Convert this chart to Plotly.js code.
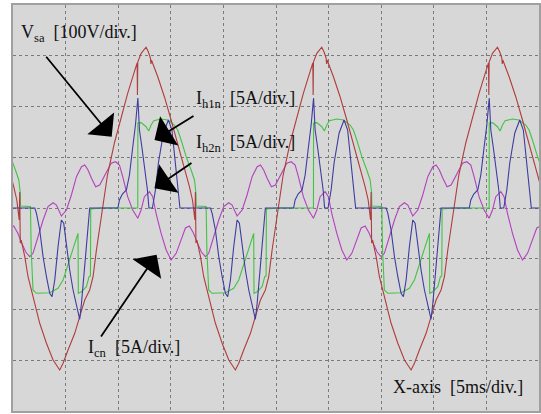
<!DOCTYPE html>
<html>
<head>
<meta charset="utf-8">
<script src="https://cdn.plot.ly/plotly-3.0.1.min.js"></script>
<style>html,body{margin:0;padding:0;background:#fff;}#chart{width:541px;height:414px;}</style>
</head>
<body>
<div id="chart"></div>
<script>
// Scope capture: x in ms (5 ms/div), y in divisions.
// One period of each trace, time relative to the rising zero crossing of Vsa.
const periodStarts = [-8.2, 8.5, 25.2, 41.9]; // ms, rising zero crossings of Vsa

const vsaT = [0.00,0.48,1.14,1.78,2.40,3.04,3.30,3.33,3.36,3.68,4.15,4.37,4.56,4.61,4.66,5.26,5.89,6.53,7.16,7.79,8.27,8.56,8.79,8.84,8.89,8.98,9.32,9.63,9.95,10.27,10.74,11.38,12.01,12.64,12.96,13.43,14.07,14.54,15.02,15.49,15.81,16.13,16.44];
const vsaV = [0,0.650,1.281,1.799,2.260,2.686,2.857,2.227,2.877,3.048,3.167,3.074,2.956,2.837,2.916,2.587,2.193,1.734,1.275,0.814,0.420,0.158,-0.236,0.315,-0.690,-0.631,-0.960,-1.354,-1.616,-1.878,-2.272,-2.666,-2.995,-3.192,-3.060,-2.798,-2.469,-2.142,-1.813,-1.616,-1.354,-0.828,-0.368];

const ih1T = [0,1.47,1.62,1.90,2.28,2.57,2.85,3.14,3.37,3.52,3.75,4.09,4.28,4.42,4.75,5.04,5.32,5.80,6.27,6.61,6.94,7.18,7.37,10.27,10.43,10.74,11.06,11.38,11.69,11.91,12.17,12.48,12.80,13.02,13.28,13.59,13.91,14.23,14.54,14.71,14.92,15.18,15.40,15.49];
const ih1V = [0,0,0.158,0.276,0.355,0.650,1.143,1.635,2.167,1.537,1.202,0.690,0.355,0,0,0.355,0.887,1.478,1.734,1.537,0.887,0.355,0,0,-0.104,-0.433,-0.960,-1.354,-1.681,-1.748,-1.419,-0.763,-0.236,-0.301,-0.763,-1.222,-1.616,-1.945,-2.193,-1.878,-1.354,-0.631,-0.104,0];

const ih2T = [0,3.36,3.37,3.68,4.15,4.40,4.63,4.88,5.58,6.21,6.84,7.16,7.48,7.96,8.43,8.75,8.89,8.91,9.86,9.93,10.10,10.43,11.69,12.48,12.96,13.59,14.07,14.38,14.41,14.71,15.18,15.43,15.56,15.59];
const ih2V = [0,0,1.675,1.681,1.602,1.517,1.635,1.720,1.754,1.734,1.635,1.537,1.340,1.011,0.749,0.552,0.296,0.039,0.030,-0.828,-1.616,-1.681,-1.669,-1.582,-1.419,-1.025,-0.696,-0.499,-1.681,-1.649,-1.551,-1.354,-1.340,-0.020];

const icnT = [0,0.35,0.83,1.24,1.62,1.93,2.40,2.88,3.36,3.68,3.99,4.47,4.78,5.10,5.58,6.06,6.53,7.01,7.48,7.89,8.27,8.65,9.03,9.41,9.79,10.10,10.58,11.06,11.53,12.01,12.33,12.80,13.28,13.75,14.23,14.71,15.02,15.33,15.66,16.06,16.44];
const icnV = [0.552,0.684,0.881,0.912,0.847,0.617,0.223,-0.039,-0.203,-0.039,0.223,0.321,0.223,-0.104,-0.499,-0.828,-1.025,-0.893,-0.631,-0.394,-0.355,-0.493,-0.690,-0.867,-0.960,-0.893,-0.566,-0.236,0.026,0.104,0.059,-0.158,-0.039,0.256,0.617,0.814,0.847,0.749,0.585,0.420,0.453];

function series(t, v) {
  const x = [], y = [];
  periodStarts.forEach(s => {
    t.forEach((ti, i) => { x.push(+(s + ti).toFixed(3)); y.push(v[i]); });
  });
  return {x, y};
}

function trace(t, v, color, name) {
  const d = series(t, v);
  return {x: d.x, y: d.y, type: 'scatter', mode: 'lines', name: name,
          line: {color: color, width: 1.1}, hoverinfo: 'skip'};
}

const data = [
  trace(icnT, icnV, '#b441bf', 'Icn'),
  trace(ih2T, ih2V, '#42c442', 'Ih2n'),
  trace(vsaT, vsaV, '#b03c3c', 'Vsa'),
  trace(ih1T, ih1V, '#3c3ca0', 'Ih1n')
];

const font = {family: 'Liberation Serif', size: 18, color: '#111'};

function label(text, x, y) {
  return {text: text, x: x, y: y, xref: 'x', yref: 'y', xanchor: 'left', yanchor: 'middle',
          showarrow: false, font: font};
}
function arrow(hx, hy, tx, ty) {
  return {text: '', x: hx, y: hy, ax: tx, ay: ty, xref: 'x', yref: 'y', axref: 'x', ayref: 'y',
          showarrow: true, arrowhead: 1, arrowsize: 3.2, arrowwidth: 1.8, arrowcolor: '#000', standoff: 0};
}

const layout = {
  width: 541, height: 414,
  margin: {l: 13, r: 2, t: 5, b: 3},
  paper_bgcolor: '#ffffff',
  plot_bgcolor: '#d7d7d7',
  font: {family: 'Liberation Serif'},
  showlegend: false,
  xaxis: {range: [0, 50], dtick: 5, tick0: 0, showticklabels: false, ticks: '',
          showgrid: true, gridcolor: '#7a7a7a', griddash: 'dot', gridwidth: 1,
          zeroline: false, showline: true, mirror: true, linecolor: '#a0a0a0', linewidth: 2, fixedrange: true},
  yaxis: {range: [-4, 4], dtick: 1, tick0: 0, showticklabels: false, ticks: '',
          showgrid: true, gridcolor: '#7a7a7a', griddash: 'dot', gridwidth: 1,
          zeroline: false, showline: true, mirror: true, linecolor: '#a0a0a0', linewidth: 2, fixedrange: true},
  annotations: [
    label('V<sub>sa</sub>  [100V/div.]', 0.6, 3.43),
    label('I<sub>h1n</sub>  [5A/div.]', 17.25, 2.13),
    label('I<sub>h2n</sub>  [5A/div.]', 17.25, 1.28),
    label('I<sub>cn</sub>  [5A/div.]', 6.94, -2.76),
    label('X-axis  [5ms/div.]', 35.9, -3.53),
    arrow(9.38, 1.405, 3.04, 3.01),
    arrow(13.45, 1.34, 17.3, 1.833),
    arrow(13.45, 0.39, 17.11, 0.906),
    arrow(13.65, -0.92, 8.27, -2.562)
  ]
};

Plotly.newPlot('chart', data, layout, {staticPlot: true, displayModeBar: false});
</script>
</body>
</html>
